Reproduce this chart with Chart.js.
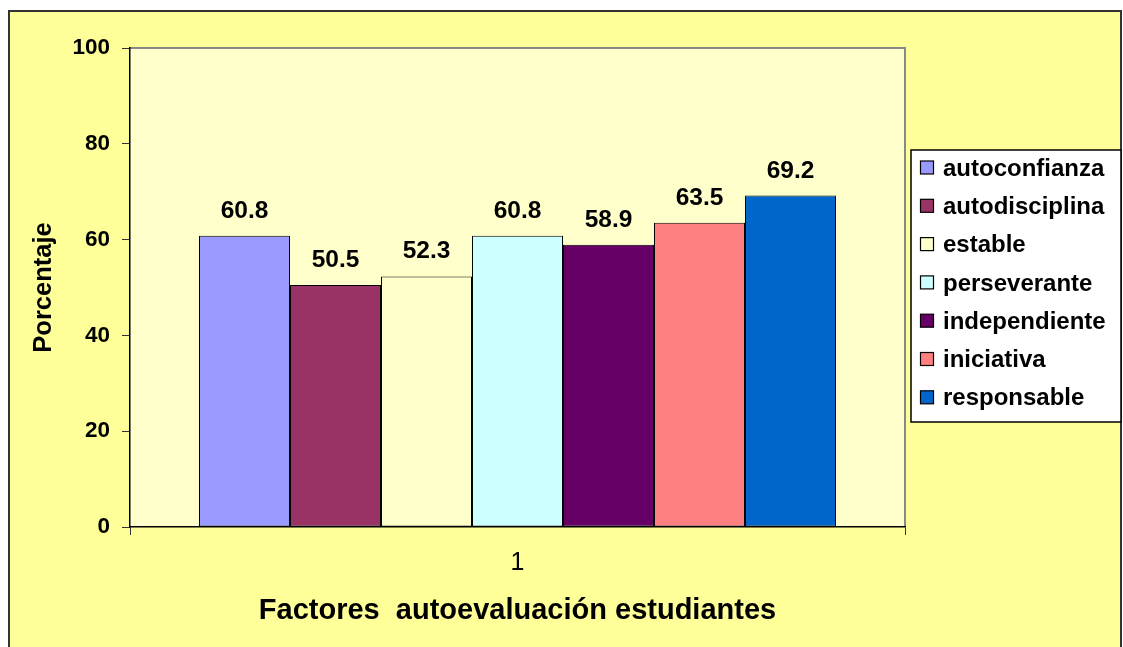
<!DOCTYPE html>
<html>
<head>
<meta charset="utf-8">
<script src="https://cdn.jsdelivr.net/npm/chart.js@4.4.0/dist/chart.umd.min.js"></script>
<style>
  html, body { margin: 0; padding: 0; background: #ffffff; }
  #wrap { width: 1123px; height: 647px; position: relative; }
</style>
</head>
<body>
<div id="wrap"><canvas id="c" width="1123" height="647"></canvas></div>
<script>
const categories = ['1'];
const seriesNames = ['autoconfianza', 'autodisciplina', 'estable', 'perseverante', 'independiente', 'iniciativa', 'responsable'];
const seriesValues = [60.8, 50.5, 52.3, 60.8, 58.9, 63.5, 69.2];
const seriesColors = ['#9999FF', '#993366', '#FFFFCC', '#CCFFFF', '#660066', '#FF8080', '#0066CC'];
const yTickValues = [0, 20, 40, 60, 80, 100];
const xTitle = 'Factores  autoevaluación estudiantes';
const yTitle = 'Porcentaje';

const FONT = "'Liberation Sans', Arial, sans-serif";

const datasets = seriesNames.map((name, i) => ({
  label: name,
  data: [seriesValues[i]],
  backgroundColor: seriesColors[i],
  borderColor: '#000000',
  borderWidth: 1,
  borderSkipped: false,
  categoryPercentage: 0.822,
  barPercentage: 1.0
}));

const backgroundPlugin = {
  id: 'bgPlugin',
  beforeDraw(chart) {
    const ctx = chart.ctx;
    const a = chart.chartArea;
    ctx.save();
    ctx.fillStyle = '#ffffff';
    ctx.fillRect(0, 0, chart.width, chart.height);
    ctx.fillStyle = '#FFFF99';
    ctx.fillRect(9, 11, 1112, chart.height);
    ctx.strokeStyle = '#333333';
    ctx.lineWidth = 2;
    ctx.strokeRect(9, 11, 1112, chart.height + 10);
    ctx.fillStyle = '#FFFFCC';
    ctx.fillRect(a.left, a.top, a.right - a.left, a.bottom - a.top);
    ctx.strokeStyle = '#888888';
    ctx.lineWidth = 2;
    ctx.beginPath();
    ctx.moveTo(a.left, a.top);
    ctx.lineTo(a.right, a.top);
    ctx.lineTo(a.right, a.bottom);
    ctx.stroke();
    ctx.restore();
  }
};

const labelPlugin = {
  id: 'valueLabels',
  afterDatasetsDraw(chart) {
    const ctx = chart.ctx;
    ctx.save();
    ctx.font = "bold 24.5px " + FONT;
    ctx.fillStyle = '#000000';
    ctx.textAlign = 'center';
    ctx.textBaseline = 'alphabetic';
    chart.data.datasets.forEach((ds, i) => {
      const meta = chart.getDatasetMeta(i);
      meta.data.forEach((el, j) => {
        ctx.fillText(ds.data[j].toFixed(1), el.x, el.y - 18);
      });
    });
    ctx.restore();
  }
};

const legendPlugin = {
  id: 'boxLegend',
  afterDraw(chart) {
    const ctx = chart.ctx;
    ctx.save();
    const bx = 911, by = 150, bw = 210, bh = 272;
    ctx.fillStyle = '#ffffff';
    ctx.fillRect(bx, by, bw, bh);
    ctx.strokeStyle = '#000000';
    ctx.lineWidth = 1.5;
    ctx.strokeRect(bx, by, bw, bh);
    ctx.font = "bold 24px " + FONT;
    ctx.textBaseline = 'middle';
    ctx.textAlign = 'left';
    const rowH = 38.3;
    chart.data.datasets.forEach((ds, i) => {
      const cy = 168 + i * rowH;
      ctx.fillStyle = ds.backgroundColor;
      ctx.fillRect(920.5, cy - 7, 13, 13);
      ctx.strokeStyle = '#000000';
      ctx.lineWidth = 1.2;
      ctx.strokeRect(920.5, cy - 7, 13, 13);
      ctx.fillStyle = '#000000';
      ctx.fillText(ds.label, 943, cy + 1);
    });
    ctx.restore();
  }
};

new Chart(document.getElementById('c'), {
  type: 'bar',
  data: { labels: categories, datasets },
  options: {
    responsive: false,
    devicePixelRatio: 1,
    animation: false,
    layout: { padding: { left: 0, top: 48, right: 218, bottom: 0 } },
    plugins: {
      legend: { display: false },
      tooltip: { enabled: false }
    },
    scales: {
      x: {
        grid: { display: true, drawOnChartArea: false, drawTicks: true, tickLength: 8, color: '#333333', offset: true },
        border: { display: true, color: '#000000', width: 1.5 },
        ticks: { color: '#000000', font: { family: FONT, size: 25 }, padding: 13 },
        title: { display: true, text: xTitle, color: '#000000', font: { family: FONT, size: 29, weight: 'bold' }, padding: { top: 0, bottom: 19 } },
        afterFit(scale) { scale.height = 120; }
      },
      y: {
        min: 0, max: 100,
        afterBuildTicks(scale) { scale.ticks = yTickValues.map(v => ({ value: v })); },
        grid: { display: true, drawOnChartArea: false, drawTicks: true, tickLength: 8, color: '#333333' },
        border: { display: true, color: '#000000', width: 1.5 },
        ticks: { color: '#000000', font: { family: FONT, size: 22.5, weight: 'bold' }, padding: 12 },
        title: { display: true, text: yTitle, color: '#000000', font: { family: FONT, size: 25.5, weight: 'bold' }, padding: { top: 29, bottom: 0 } },
        afterFit(scale) { scale.width = 130; }
      }
    }
  },
  plugins: [backgroundPlugin, labelPlugin, legendPlugin]
});
</script>
</body>
</html>
